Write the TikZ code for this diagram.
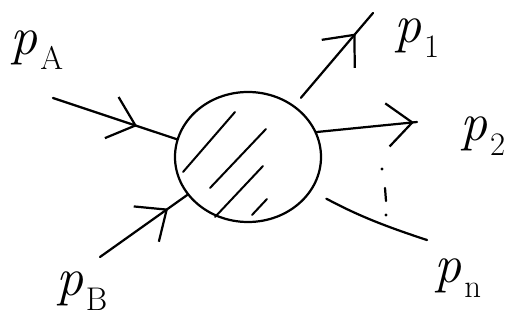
\documentclass[tikz,border=0pt]{standalone}
\usepackage{amsmath}
\usetikzlibrary{arrows.meta,decorations.markings,shapes.geometric,positioning}
\newcommand{\mom}[1]{\textit{p}\kern2pt\raisebox{-0.28em}{\fontsize{28}{30}\selectfont #1}}
\tikzset{
  leg/.style={line width=1.9pt, line cap=round},
  midarrow/.style={postaction={decorate},
    decoration={markings, mark=at position #1 with {\arrow{Straight Barb[length=7.5mm,width=13mm,line width=1.9pt]}}}},
  hatch/.style={line width=1.7pt, line cap=round},
  plabel/.style={font=\fontsize{46}{50}\selectfont, inner sep=0pt}
}
\begin{document}
\begin{tikzpicture}[x=0.03cm, y=-0.03cm]
  \useasboundingbox (0,0) rectangle (511,321);
  % the blob
  \node[ellipse, draw, line width=1.9pt, minimum width=4.38cm, minimum height=3.9cm, inner sep=0pt] (blob) at (248,157) {};
  \draw[hatch] (183,172) -- (235,112);
  \draw[hatch] (210,188) -- (266,129);
  \draw[hatch] (215,217) -- (263,166);
  \draw[hatch] (252,215) -- (267,199);
  % labels
  \node[plabel] (pA) at (37,50) {\mom{A}};
  \node[plabel] (pB) at (82,291) {\mom{B}};
  \node[plabel] (p1) at (417,38) {\mom{1}};
  \node[plabel] (p2) at (483,136) {\mom{2}};
  \node[plabel] (pn) at (458,278) {\mom{n}};
  % legs
  \coordinate (a0) at (53,98);
  \coordinate (b0) at (100,257);
  \coordinate (e1) at (373,13);
  \coordinate (e2) at (417,122);
  \coordinate (en) at (427,240);
  \draw[leg, midarrow=0.68] (a0) -- (blob.166);
  \draw[leg, midarrow=0.78] (b0) -- (blob.212);
  \draw[leg, midarrow=0.78, shorten <=3mm] (blob.48) -- (e1);
  \draw[leg, midarrow=0.97] (blob.20) -- (e2);
  \draw[leg, shorten >=5mm] (en) to[bend left=5] (blob.-28);
  % dots
  \fill (382,169) circle (1.3pt);
  \draw[leg] (385,188) -- (386,201);
  \fill (386,215) circle (1.3pt);
\end{tikzpicture}
\end{document}
